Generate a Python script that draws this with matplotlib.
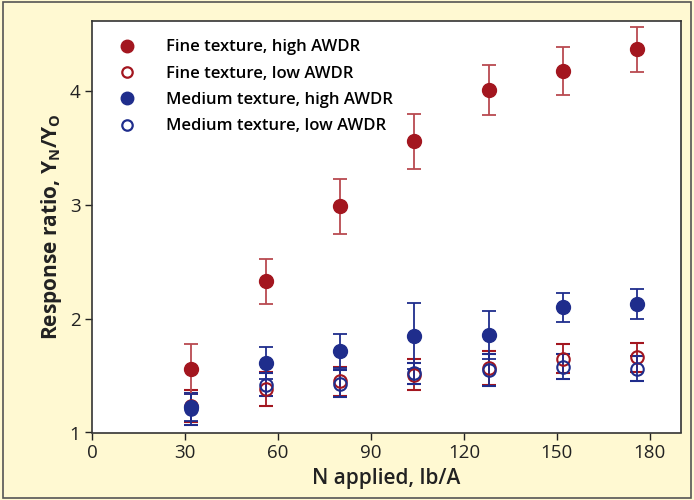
import numpy as np
import matplotlib.pyplot as plt
from matplotlib.patches import Rectangle
from matplotlib.lines import Line2D

# N applied, lb/A
n_applied = [32, 56, 80, 104, 128, 152, 176]

# response ratio Yn/Yo and error (half-width) for each group
fine_high = [1.56, 2.33, 2.99, 3.56, 4.01, 4.18, 4.37]
fine_high_err = [0.22, 0.20, 0.24, 0.24, 0.22, 0.21, 0.20]
fine_low = [1.23, 1.38, 1.45, 1.51, 1.57, 1.65, 1.66]
fine_low_err = [0.14, 0.15, 0.13, 0.14, 0.15, 0.13, 0.13]
med_high = [1.22, 1.61, 1.72, 1.85, 1.86, 2.10, 2.13]
med_high_err = [0.12, 0.14, 0.15, 0.29, 0.21, 0.13, 0.13]
med_low = [1.21, 1.42, 1.43, 1.52, 1.55, 1.58, 1.56]
med_low_err = [0.14, 0.10, 0.12, 0.09, 0.14, 0.11, 0.11]

labels = ['Fine texture, high AWDR', 'Fine texture, low AWDR',
          'Medium texture, high AWDR', 'Medium texture, low AWDR']

red = '#a3161f'
blue = '#1f2d8c'
bg = '#fff9d2'

plt.rcParams['font.family'] = ['Open Sans', 'DejaVu Sans']

fig = plt.figure(figsize=(6.94, 5.0), dpi=100, facecolor=bg)
fig.patches.append(Rectangle((0.004, 0.004), 0.992, 0.992, transform=fig.transFigure,
                             fill=False, edgecolor='#555555', linewidth=1.2))
ax = fig.add_axes([0.133, 0.135, 0.848, 0.823])
ax.set_facecolor('white')

eb = dict(capsize=5, elinewidth=1.3, capthick=1.3, linestyle='none')

# open circles first, filled ones on top (as in the original)
ax.errorbar(n_applied, fine_low, yerr=fine_low_err, fmt='o', ecolor=red,
            mfc='none', mec=red, ms=9, mew=1.5, **eb)
ax.errorbar(n_applied, med_low, yerr=med_low_err, fmt='o', ecolor=blue,
            mfc='none', mec=blue, ms=9, mew=1.5, **eb)
ax.errorbar(n_applied, fine_high, yerr=fine_high_err, fmt='o', color=red, ecolor='#b94a50',
            ms=10, **eb)
ax.errorbar(n_applied, med_high, yerr=med_high_err, fmt='o', color=blue, ecolor=blue,
            ms=10, **eb)

ax.set_xlim(0, 190)
ax.set_ylim(1, 4.62)
ax.set_xticks([0, 30, 60, 90, 120, 150, 180])
ax.set_yticks([1, 2, 3, 4])
ax.tick_params(direction='out', length=5, width=1, labelsize=13.5, colors='#222222')
for s in ax.spines.values():
    s.set_linewidth(1.2)
    s.set_color('#333333')

ax.set_xlabel('N applied, lb/A', fontsize=15, fontweight='semibold', color='#222222')
ax.set_ylabel(r'Response ratio, Y$_\mathregular{N}$/Y$_\mathregular{O}$', fontsize=15,
              fontweight='bold', color='#222222')

# legend with markers only
handles = [Line2D([], [], marker='o', ls='none', color=red, ms=9),
           Line2D([], [], marker='o', ls='none', mfc='none', mec=red, ms=7.5, mew=1.6),
           Line2D([], [], marker='o', ls='none', color=blue, ms=9),
           Line2D([], [], marker='o', ls='none', mfc='none', mec=blue, ms=7.5, mew=1.6)]
ax.legend(handles, labels, loc='upper left', frameon=False,
          handletextpad=1.3, labelspacing=0.62, borderaxespad=0.7,
          prop={'weight': 'semibold', 'size': 12})

fig.savefig('out.png', dpi=100, facecolor=bg)
